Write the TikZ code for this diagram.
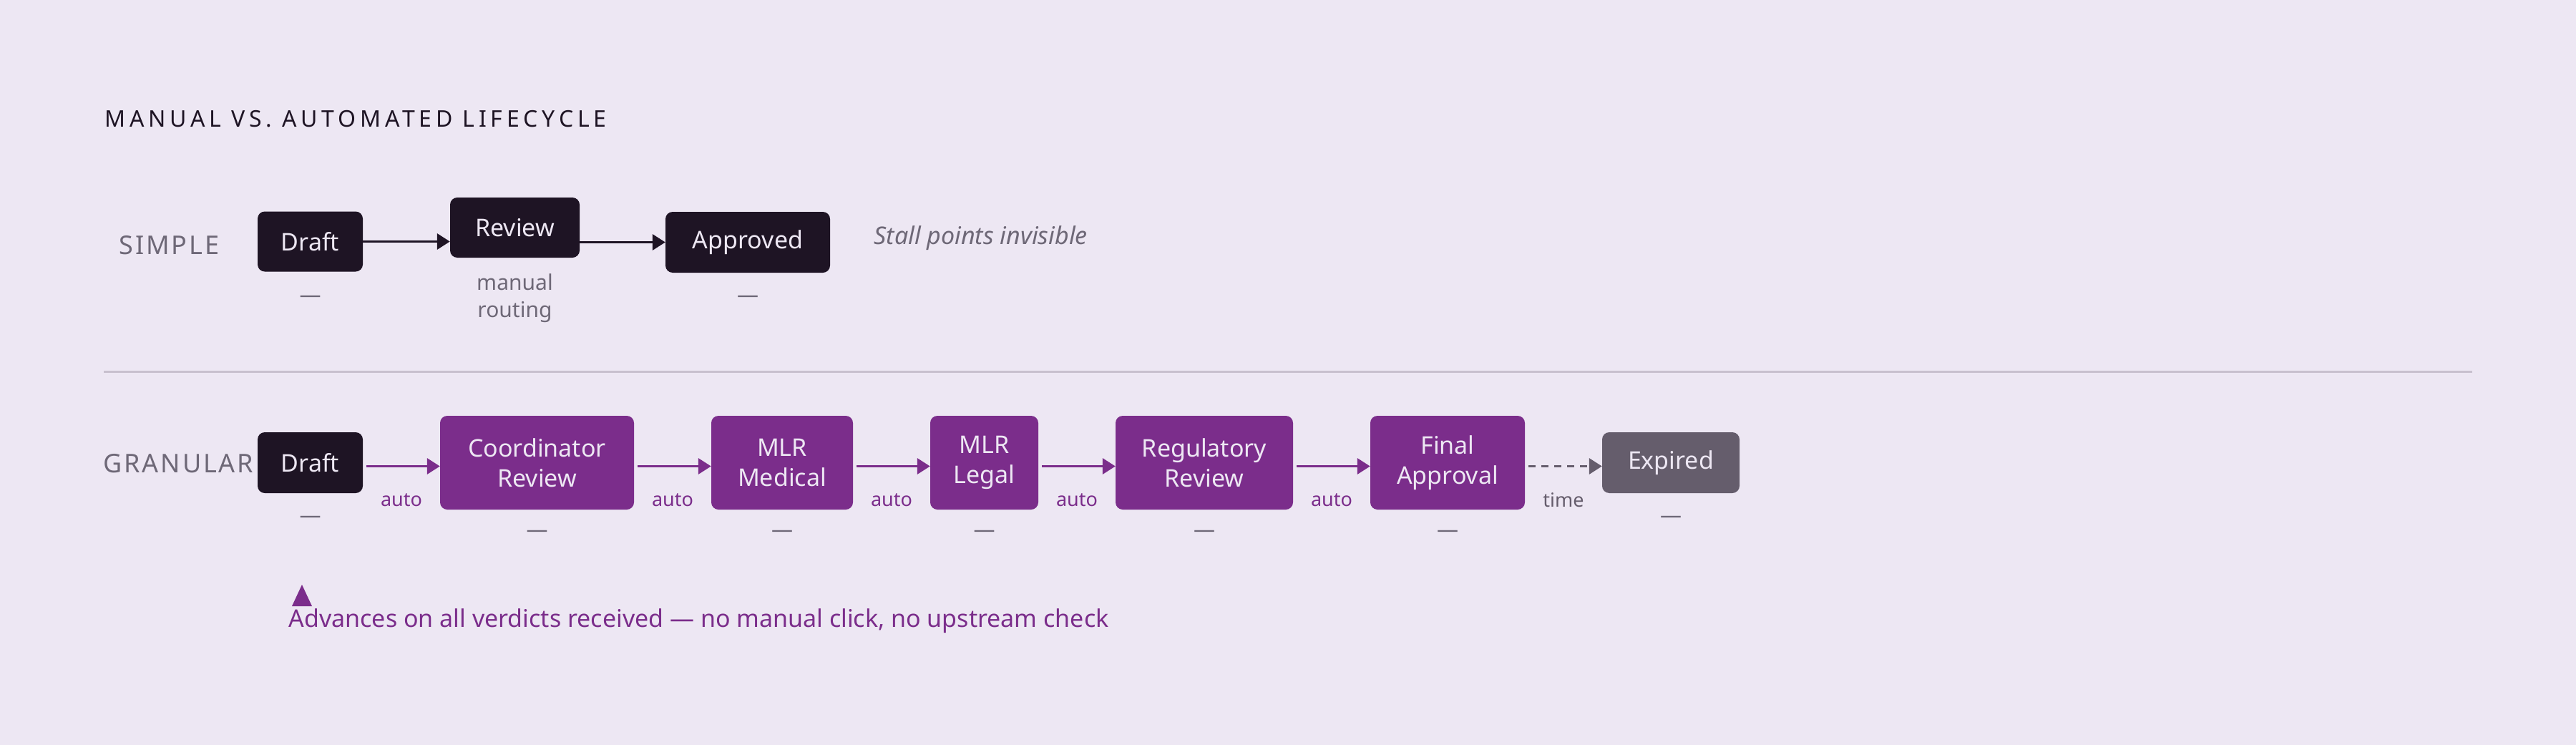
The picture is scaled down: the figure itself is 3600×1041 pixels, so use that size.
\documentclass[tikz,border=0pt]{standalone}
\usepackage{fontspec}
\setmainfont{Noto Sans}
\usetikzlibrary{arrows.meta,calc}
\definecolor{bg}{HTML}{EDE7F3}
\definecolor{dk}{HTML}{1E1424}
\definecolor{pu}{HTML}{7B2D8B}
\definecolor{gy}{HTML}{655D6C}
\definecolor{tg}{HTML}{6E6877}
\definecolor{sep}{HTML}{C8C0CE}
\begin{document}
\begin{tikzpicture}[x=1pt,y=-1pt,
  box/.style={rounded corners=10pt,text=bg,font=\fontsize{34}{42}\selectfont\bfseries,align=center,inner sep=0pt},
  dkbox/.style={box,fill=dk},
  pubox/.style={box,fill=pu},
  gybox/.style={box,fill=gy},
  lab/.style={font=\fontsize{30}{38}\selectfont,text=tg,align=center},
  auto/.style={font=\fontsize{27}{30}\selectfont\bfseries,text=pu},
  arr/.style={line width=3.5pt,-{Triangle[length=18pt,width=22pt]}},
  dsh/.style={lab,font=\fontsize{30}{30}\selectfont}]
\fill[bg] (0,0) rectangle (3600,1041);
\useasboundingbox (0,0) rectangle (3600,1041);
\node[anchor=west,font=\fontsize{32}{36}\selectfont\addfontfeature{LetterSpace=18},text=dk] (title) at (143,166) {MANUAL VS. AUTOMATED LIFECYCLE};
\node[anchor=west,font=\fontsize{36}{40}\selectfont\addfontfeature{LetterSpace=8},text=tg] (simple) at (163,343) {SIMPLE};
\node[dkbox,minimum width=147pt,minimum height=84pt] (sd) at (433.5,337.5) {Draft};
\node[dkbox,minimum width=181pt,minimum height=84pt] (sr) at (719.5,318) {Review};
\node[dkbox,minimum width=230pt,minimum height=85pt] (sa) at (1045,338.5) {Approved};
\draw[arr,dk] (sd) -- (sr.west|-sd);
\draw[arr,dk] (sr.east|-sa) -- (sa);
\node[dsh] (sdd) at (433.5,418) {—};
\node[lab] (srl) at (719.5,417) {manual\\routing};
\node[dsh] (sad) at (1045,418) {—};
\node[anchor=west,font=\fontsize{34}{40}\selectfont\itshape,text=tg] (stall) at (1218,333) {Stall points invisible};
\coordinate (l1) at (145,519); \coordinate (l2) at (3455,519);
\draw[sep,line width=3pt] (l1) -- (l2);
\node[anchor=west,font=\fontsize{36}{40}\selectfont\addfontfeature{LetterSpace=8},text=tg] (gran) at (141,648) {GRANULAR};
\node[dkbox,minimum width=147pt,minimum height=85pt] (gd) at (433.5,646.5) {Draft};
\node[pubox,minimum width=271pt,minimum height=131pt] (gc) at (750.5,646.5) {Coordinator\\Review};
\node[pubox,minimum width=198pt,minimum height=131pt] (gm) at (1093,646.5) {MLR\\Medical};
\node[pubox,minimum width=151pt,minimum height=131pt] (gl) at (1375.5,646.5) {MLR\\Legal};
\node[pubox,minimum width=248pt,minimum height=131pt] (gr) at (1683,646.5) {Regulatory\\Review};
\node[pubox,minimum width=216pt,minimum height=131pt] (gf) at (2023,646.5) {Final\\Approval};
\node[gybox,minimum width=192pt,minimum height=85pt] (ge) at (2335,646.5) {Expired};
\foreach \a/\b in {gd/gc,gc/gm,gm/gl,gl/gr,gr/gf}{
  \draw[arr,pu] ($(\a.east)+(5,5)$) coordinate (s\a) -- (\b.west|-s\a);
  \node[auto] at ($ (\a.east)!0.5!(\b.west) + (0,52) $) {auto};
}
\draw[line width=3.5pt,gy,dash pattern=on 10pt off 8pt,-{Triangle[length=18pt,width=22pt]}] ($(gf.east)+(5,5)$) coordinate (sgf) -- (ge.west|-sgf);
\node[font=\fontsize{27}{30}\selectfont\bfseries,text=gy] (time) at ($ (gf.east)!0.5!(ge.west) + (0,52) $) {time};
\node[dsh] (d1) at (433.5,726) {—};
\node[dsh] (d2) at (750.5,746) {—};
\node[dsh] (d3) at (1093,746) {—};
\node[dsh] (d4) at (1375.5,746) {—};
\node[dsh] (d5) at (1683,746) {—};
\node[dsh] (d6) at (2023,746) {—};
\node[dsh] (d7) at (2335,726) {—};
\fill[pu] (408,847) -- (422,817) -- (436,847) -- cycle;
\node[anchor=west,font=\fontsize{34}{40}\selectfont,text=pu] (adv) at (400,868) {Advances on all verdicts received — no manual click, no upstream check};
\end{tikzpicture}
\end{document}
